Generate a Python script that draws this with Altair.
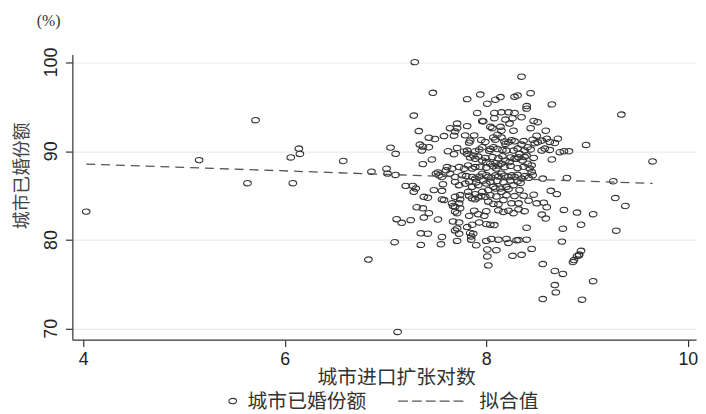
import altair as alt
import pandas as pd

# ---- observations (x = 城市进口扩张对数, y = 城市已婚份额 %) ----
obs_left = [(4.03, 83.20), (5.15, 89.00), (5.71, 93.50), (5.63, 86.40), (6.06, 89.30),
            (6.14, 90.30), (6.15, 89.70), (6.08, 86.40), (6.58, 88.90), (6.83, 77.80),
            (6.86, 87.70)]
obs_top = [(7.29, 100.04), (8.35, 98.40), (7.47, 96.58), (7.81, 95.87), (7.94, 96.39),
           (8.01, 95.35), (8.09, 95.80), (8.14, 96.10), (8.28, 96.13), (8.31, 96.28),
           (8.44, 96.54), (8.40, 95.09), (8.40, 94.80), (8.65, 95.28), (9.34, 94.13),
           (7.28, 94.02), (7.91, 94.31), (8.08, 94.31), (8.15, 94.39), (8.22, 94.39),
           (8.28, 94.31), (8.08, 93.72), (8.19, 93.57), (8.26, 93.72), (8.35, 93.83),
           (7.71, 93.12), (7.81, 92.83), (7.96, 93.42), (7.97, 93.35), (8.23, 93.12),
           (8.47, 93.42), (8.51, 93.27)]
obs_b92 = [(7.33, 92.27), (7.64, 92.60), (7.71, 92.60), (7.69, 92.23), (7.68, 91.75),
           (7.79, 91.79), (7.58, 91.71), (7.43, 91.53), (7.49, 91.38), (7.88, 91.79),
           (7.95, 91.27), (8.04, 92.75), (8.06, 92.60), (8.14, 92.75), (8.15, 92.31),
           (8.11, 91.86), (8.15, 91.56), (8.27, 92.31), (8.44, 92.60), (8.50, 91.75),
           (8.59, 92.31), (8.60, 91.41), (8.71, 91.41), (8.07, 91.56)]
obs_b90 = [(7.34, 90.75), (7.37, 90.52), (7.43, 90.45), (7.62, 90.00), (7.71, 90.37),
           (7.68, 89.67), (7.83, 90.97), (7.81, 90.08), (7.89, 90.00), (7.96, 90.45),
           (8.04, 90.26), (8.07, 90.45), (8.19, 90.82), (8.22, 91.01), (8.28, 91.12),
           (8.35, 90.75), (8.41, 90.45), (8.48, 90.90), (8.51, 91.01), (8.55, 90.08),
           (8.65, 89.07), (8.73, 89.89), (8.77, 90.00), (8.82, 90.00), (8.99, 90.71),
           (7.05, 90.41), (7.10, 89.71), (8.20, 90.08), (8.27, 90.08), (8.33, 89.71),
           (8.40, 89.52)]
obs_b88 = [(9.65, 88.85), (7.37, 88.55), (7.46, 89.07), (7.81, 89.71), (7.87, 89.52),
           (7.89, 89.15), (7.96, 88.96), (8.00, 88.78), (8.04, 88.59), (8.09, 88.66),
           (8.12, 88.40), (8.15, 88.59), (8.19, 88.96), (8.23, 88.78), (8.28, 89.15),
           (8.32, 89.33), (8.36, 88.96), (8.41, 88.59), (8.45, 88.40), (7.52, 87.62),
           (7.60, 87.85), (7.66, 88.03), (7.73, 88.22), (7.78, 88.03), (7.82, 88.40),
           (7.89, 88.22), (7.01, 88.03), (7.02, 87.48), (7.10, 87.33), (7.50, 87.48),
           (7.56, 87.10)]
obs_b87 = [(7.69, 87.10), (7.76, 87.29), (7.86, 87.10), (7.89, 86.92), (7.96, 87.48),
           (8.02, 87.10), (8.09, 87.29), (8.15, 87.48), (8.22, 87.10), (8.25, 87.29),
           (8.28, 87.10), (8.35, 86.92), (8.45, 87.66), (8.46, 87.29), (8.56, 86.92),
           (8.80, 86.99), (9.26, 86.62), (7.20, 86.10), (7.27, 86.10), (7.30, 85.80),
           (7.57, 86.29), (7.73, 86.18), (7.79, 86.36), (7.86, 85.99), (7.92, 86.18),
           (8.00, 86.36), (8.07, 85.99), (8.14, 85.80), (8.20, 85.99), (8.27, 86.18),
           (8.34, 86.43), (7.69, 86.55)]
obs_b85 = [(7.28, 85.43), (7.38, 84.87), (7.42, 84.76), (7.48, 85.62), (7.56, 85.54),
           (7.56, 84.58), (7.58, 84.50), (7.66, 84.13), (7.74, 85.06), (7.73, 84.13),
           (7.69, 83.76), (7.82, 85.43), (7.89, 85.17), (7.96, 85.43), (8.02, 85.62),
           (8.09, 85.80), (8.15, 85.43), (8.22, 85.73), (7.86, 84.69), (7.89, 84.58),
           (7.92, 84.80), (7.99, 84.87), (8.02, 84.32), (8.07, 84.06), (8.12, 84.02),
           (8.17, 84.50), (8.25, 84.13), (8.32, 84.13), (8.33, 85.62), (8.42, 84.43),
           (8.50, 84.13), (8.57, 84.21), (8.64, 85.54), (8.70, 85.17), (9.28, 84.73),
           (9.38, 83.83)]
obs_b82 = [(7.31, 83.69), (7.37, 83.57), (7.43, 83.02), (7.67, 83.83), (7.71, 83.02),
           (7.83, 82.72), (7.92, 82.91), (7.98, 82.72), (8.17, 83.16), (8.27, 83.02),
           (8.32, 83.46), (8.55, 82.87), (8.59, 82.42), (8.60, 83.69), (8.77, 83.39),
           (8.90, 83.09), (9.06, 82.91), (7.11, 82.35), (7.16, 81.94), (7.25, 82.24),
           (7.38, 82.53), (7.52, 82.31), (7.67, 82.09), (7.73, 81.98), (7.81, 81.46),
           (7.86, 81.72), (7.93, 81.98), (8.00, 81.79), (8.04, 81.72), (8.08, 81.68),
           (8.40, 81.38), (8.94, 81.72), (8.76, 81.27)]
obs_b80 = [(7.35, 80.75), (7.42, 80.71), (7.56, 80.34), (7.55, 79.52), (7.35, 79.45),
           (7.09, 79.75), (7.69, 81.08), (7.71, 81.31), (7.73, 80.71), (7.84, 80.79),
           (7.87, 80.71), (7.85, 80.04), (7.90, 79.41), (7.71, 79.90), (8.00, 79.90),
           (8.05, 80.12), (8.12, 80.04), (8.20, 80.12), (8.22, 79.67), (8.30, 79.97),
           (8.32, 80.01), (8.40, 80.04), (8.75, 79.82), (9.29, 81.05), (8.01, 78.93),
           (8.10, 78.85), (8.45, 79.00)]
obs_low = [(8.94, 78.78), (8.92, 78.26), (8.87, 77.74), (8.86, 77.52), (8.92, 78.37),
           (8.26, 78.22), (8.35, 78.33), (8.01, 78.15), (8.02, 77.14), (8.56, 77.29),
           (8.68, 76.51), (8.76, 76.18), (9.06, 75.36), (8.68, 74.92), (8.69, 74.10),
           (8.56, 73.35), (8.95, 73.28), (7.12, 69.64)]
obs_extra = [(8.68, 90.93), (7.36, 90.08), (7.78, 89.97), (7.61, 88.22), (7.53, 87.29),
             (7.64, 87.48), (7.69, 84.87), (7.74, 84.58), (7.74, 83.57), (7.69, 83.20),
             (7.85, 80.40), (8.90, 78.20)]
obs_core = [(7.84, 91.20), (7.99, 91.05), (8.09, 91.30), (8.18, 91.10), (8.25, 91.25),
            (8.37, 91.15), (8.46, 91.30), (8.55, 91.20), (8.63, 91.05),
            (7.93, 90.20), (8.03, 90.05), (8.11, 90.25), (8.16, 90.15), (8.31, 90.30),
            (8.38, 90.10), (8.44, 90.20), (8.58, 90.30), (8.63, 90.15),
            (7.84, 89.30), (7.92, 89.40), (7.99, 89.25), (8.06, 89.35), (8.12, 89.20),
            (8.16, 89.45), (8.24, 89.30), (8.30, 89.15), (8.38, 89.35), (8.47, 89.25),
            (7.86, 88.05), (7.94, 88.25), (8.00, 88.15), (8.07, 88.30), (8.10, 88.05),
            (8.18, 88.20), (8.24, 88.35), (8.31, 88.10), (8.37, 88.25), (8.43, 88.05),
            (7.80, 87.20), (7.93, 87.15), (8.00, 87.30), (8.05, 87.05), (8.12, 87.15),
            (8.18, 87.25), (8.31, 87.35), (8.38, 87.20), (8.42, 87.00),
            (7.83, 86.60), (7.90, 86.50), (7.97, 86.70), (8.04, 86.55), (8.11, 86.65),
            (8.17, 86.50), (8.24, 86.70), (8.31, 86.60),
            (7.83, 85.00), (7.95, 84.95), (8.04, 85.05), (8.10, 84.90), (8.20, 85.05),
            (8.28, 84.95), (8.37, 85.00), (8.47, 85.10),
            (7.88, 83.30), (8.00, 83.25), (8.12, 83.35), (8.22, 83.30), (8.38, 83.25)]

# fitted line end points
fit_x = [4.03, 9.65]
fit_y = [88.55, 86.37]

x_ticks = [4, 6, 8, 10]
y_ticks = [70, 80, 90, 100]
legend_labels = ["城市已婚份额", "拟合值"]
unit_label = ["(%)"]
x_title = "城市进口扩张对数"
y_title = "城市已婚份额"

all_obs = (obs_left + obs_top + obs_b92 + obs_b90 + obs_b88 + obs_b87 + obs_b85 +
           obs_b82 + obs_b80 + obs_low + obs_extra + obs_core)
df = pd.DataFrame(all_obs, columns=["x", "y"])
fit_df = pd.DataFrame({"x": fit_x, "y": fit_y})
ytick_df = pd.DataFrame({"v": y_ticks})

ELLIPSE = ("M-1,0C-1,-0.387,-0.552,-0.7,0,-0.7C0.552,-0.7,1,-0.387,1,0"
           "C1,0.387,0.552,0.7,0,0.7C-0.552,0.7,-1,0.387,-1,0Z")
INK = "#343434"
CJK = "Noto Sans CJK SC"
SANS = "Liberation Sans"

xscale = alt.Scale(domain=[3.892, 10.081], nice=False, zero=False)
yscale = alt.Scale(domain=[68.77, 100.89], nice=False, zero=False)

xaxis = alt.Axis(values=x_ticks, format="d", title=x_title, grid=False,
                 domainColor="#333333", domainWidth=1.2, tickColor="#333333",
                 tickWidth=1.2, tickSize=7, labelFont=SANS,
                 labelFontSize=18, labelColor="#222222", labelPadding=4,
                 labelFlush=False, labelOverlap=False,
                 titleFont=CJK, titleFontSize=20, titleFontWeight="normal",
                 titleColor="#333333", titleX=327, titleY=38,
                 titleAlign="center", titleBaseline="middle")
# y tick labels are drawn rotated by a text layer below
yaxis = alt.Axis(values=y_ticks, labels=False, title=y_title, grid=True,
                 gridColor="#ececec", gridWidth=1.2, domainColor="#333333",
                 domainWidth=1.2, tickColor="#333333", tickWidth=1.2, tickSize=7,
                 titleFont=CJK, titleFontSize=18, titleFontWeight="normal",
                 titleColor="#444444", titleAngle=270, titleX=-50, titleY=122,
                 titleAlign="center", titleBaseline="middle")

points = alt.Chart(df).mark_point(
    shape=ELLIPSE, size=60, filled=False, color=INK, strokeWidth=1.1, opacity=1
).encode(
    x=alt.X("x:Q", scale=xscale, axis=xaxis),
    y=alt.Y("y:Q", scale=yscale, axis=yaxis),
)

fit = alt.Chart(fit_df).mark_line(
    color="#555555", strokeWidth=1.3, strokeDash=[9, 6]
).encode(x=alt.X("x:Q", scale=xscale, axis=xaxis),
         y=alt.Y("y:Q", scale=yscale, axis=yaxis))

ylabels = alt.Chart(ytick_df).mark_text(
    angle=270, align="center", baseline="alphabetic", font=SANS, fontSize=18,
    color="#222222"
).encode(
    y=alt.Y("v:Q", scale=yscale, axis=yaxis),
    x=alt.value(-15),
    text=alt.Text("v:Q", format="d"),
)

leg1 = pd.DataFrame({"label": [legend_labels[0]]})
leg2 = pd.DataFrame({"label": [legend_labels[1]]})

leg_sym = alt.Chart(leg1).mark_point(
    shape=ELLIPSE, size=60, filled=False, color=INK, strokeWidth=1.1, opacity=1
).encode(x=alt.value(162), y=alt.value(350))
leg_txt1 = alt.Chart(leg1).mark_text(
    align="left", baseline="middle", font=CJK, fontSize=20, color="#333333"
).encode(x=alt.value(177), y=alt.value(351), text="label:N")
leg_dash = alt.Chart(leg2).mark_rule(
    color="#555555", strokeWidth=1.3, strokeDash=[10, 4]
).encode(x=alt.value(329), x2=alt.value(395), y=alt.value(350))
leg_txt2 = alt.Chart(leg2).mark_text(
    align="left", baseline="middle", font=CJK, fontSize=20, color="#333333"
).encode(x=alt.value(411), y=alt.value(351), text="label:N")

pct = alt.Chart(pd.DataFrame({"u": unit_label})).mark_text(
    align="center", baseline="middle", font="Liberation Serif", fontSize=16,
    color="#333333"
).encode(x=alt.value(-24), y=alt.value(-34), text="u:N")

chart = alt.layer(points, fit, ylabels, leg_sym, leg_txt1, leg_dash, leg_txt2,
                  pct).properties(
    width=630, height=288,
    autosize=alt.AutoSizeParams(type="none"),
    padding={"left": 65, "top": 45, "right": 2, "bottom": 72},
    background="white",
).configure_view(stroke=None)

chart.save("out.html", embed_options={"renderer": "svg", "actions": False})
